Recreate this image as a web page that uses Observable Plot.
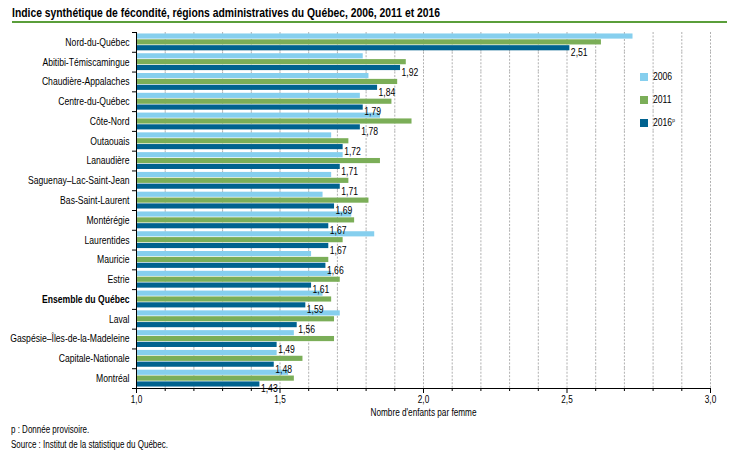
<!DOCTYPE html>
<html><head><meta charset="utf-8">
<script src="https://cdn.jsdelivr.net/npm/d3@7"></script>
<script src="https://cdn.jsdelivr.net/npm/@observablehq/plot@0.6"></script>
<style>
body{margin:0;background:#fff;font-family:'Liberation Sans',Arial,sans-serif;}
#wrap{position:relative;width:730px;height:457px;overflow:hidden;}
#title{position:absolute;left:12px;top:6px;font-weight:bold;font-size:12.5px;color:#000;white-space:nowrap;transform-origin:0 50%;}
#rule{position:absolute;left:12px;top:21px;width:715px;height:2px;background:#5A9E3A;}
#chart{position:absolute;left:0;top:24px;}
#legend{position:absolute;left:640px;top:72px;font-size:10.5px;}
.li{position:relative;height:23px;}
.sw{position:absolute;left:0;top:1px;width:8px;height:8px;}
.lt{position:absolute;left:13px;top:-2px;white-space:nowrap;transform:scaleX(0.82);transform-origin:0 50%;}
.foot{position:absolute;left:11px;font-size:10px;color:#000;white-space:nowrap;transform:scaleX(0.8);transform-origin:0 50%;}
</style></head>
<body><div id="wrap">
<div id="title">Indice synthétique de fécondité, régions administratives du Québec, 2006, 2011 et 2016</div>
<div id="rule"></div>
<div id="chart"></div>
<div id="legend"></div>
<div class="foot" style="top:424px">p : Donnée provisoire.</div>
<div class="foot" style="top:439px">Source : Institut de la statistique du Québec.</div>
</div>
<script>
const regions = ["Nord-du-Québec","Abitibi-Témiscamingue","Chaudière-Appalaches","Centre-du-Québec","Côte-Nord","Outaouais","Lanaudière","Saguenay–Lac-Saint-Jean","Bas-Saint-Laurent","Montérégie","Laurentides","Mauricie","Estrie","Ensemble du Québec","Laval","Gaspésie–Îles-de-la-Madeleine","Capitale-Nationale","Montréal"];
const v2006 = [2.73,1.79,1.81,1.78,1.85,1.68,1.72,1.68,1.65,1.75,1.83,1.61,1.68,1.65,1.71,1.55,1.49,1.53];
const v2011 = [2.62,1.94,1.91,1.89,1.96,1.74,1.85,1.74,1.81,1.76,1.72,1.67,1.71,1.68,1.69,1.69,1.58,1.55];
const v2016 = [2.51,1.92,1.84,1.79,1.78,1.72,1.71,1.71,1.69,1.67,1.67,1.66,1.61,1.59,1.56,1.49,1.48,1.43];
const years = ["2006","2011","2016"];
const yearLabels = ["2006","2011","2016<sup style='font-size:6px'>p</sup>"];
const colors = ["#86CFEE","#7BAE58","#00628F"];
const majorTicks = [1.0,1.5,2.0,2.5,3.0];
const gridTicks = [1.1,1.2,1.3,1.4,1.5,1.6,1.7,1.8,1.9,2.0,2.1,2.2,2.3,2.4,2.5,2.6,2.7,2.8,2.9,3.0];
const minorTicks = [1.1,1.2,1.3,1.4,1.6,1.7,1.8,1.9,2.1,2.2,2.3,2.4,2.6,2.7,2.8,2.9];

const series = [v2006, v2011, v2016];
const data = regions.flatMap((r, i) => years.map((y, j) => ({region: r, year: y, value: series[j][i]})));
const fmt2 = d => d3.format(".2f")(d).replace(".", ",");
const fmt1 = d => d3.format(".1f")(d).replace(".", ",");

const W = 730, H = 396, mT = 8, mB = 32, mL = 136, mR = 20;
const step = (H - mT - mB) / regions.length;
const FONT = "'Liberation Sans',Arial,sans-serif";

const chart = Plot.plot({
  width: W, height: H,
  marginLeft: mL, marginRight: mR, marginTop: mT, marginBottom: mB,
  style: {fontFamily: FONT, fontSize: "10px", color: "#000", background: "transparent"},
  x: {domain: [1, 3]},
  fy: {domain: regions, padding: 0, round: false, label: null, axis: null},
  y: {domain: years, paddingInner: 0.12, paddingOuter: 0.25, round: false, axis: null},
  color: {domain: years, range: colors},
  marks: [
    Plot.ruleX(gridTicks, {stroke: "#b0b0b0", strokeDasharray: "2,1.5", strokeWidth: 1}),
    Plot.barX(data, {fy: "region", y: "year", x1: 1, x2: "value", fill: "year"}),
    Plot.text(data.filter(d => d.year === "2016"), {fy: "region", y: "year", x: "value", text: d => fmt2(d.value), textAnchor: "start", dx: 1, dy: 4.5, fontSize: 10.5, fill: "#000"}),
    Plot.axisFy({anchor: "left", tickSize: 0, tickPadding: 7, label: null, fontSize: 10.5}),
    Plot.axisFy({anchor: "left", tickSize: 4, text: null, label: null, dy: -step / 2, stroke: "#000"}),
    Plot.frame({anchor: "left", facet: "super", stroke: "#000"}),
    Plot.frame({anchor: "bottom", facet: "super", stroke: "#000", insetLeft: -4}),
    Plot.axisX({ticks: majorTicks, tickFormat: fmt1, tickSize: 5, tickPadding: 2, fontSize: 10, label: "Nombre d'enfants par femme", labelAnchor: "center", labelArrow: "none", labelOffset: 27}),
    Plot.axisX({ticks: minorTicks, tickSize: 3, text: null, label: null})
  ]
});
document.getElementById("chart").appendChild(chart);
const svg = d3.select(chart.tagName.toLowerCase() === "svg" ? chart : chart.querySelector("svg"));
svg.selectAll("text").filter(function(){ return this.textContent === "Ensemble du Québec"; }).attr("font-weight", "bold");
// narrow the lettering (Arial Narrow look)
svg.selectAll("text").each(function(){
  if (this.querySelector("tspan")) {
    d3.select(this).selectAll("tspan").each(function(){
      const L = this.getComputedTextLength();
      if (L > 0) { this.setAttribute("textLength", L * 0.82); this.setAttribute("lengthAdjust", "spacingAndGlyphs"); }
    });
  } else {
    const L = this.getComputedTextLength();
    if (L > 0) { this.setAttribute("textLength", L * 0.82); this.setAttribute("lengthAdjust", "spacingAndGlyphs"); }
  }
});

const title = document.getElementById("title");
title.style.transform = `scaleX(${428 / title.getBoundingClientRect().width})`;

const lg = document.getElementById("legend");
years.forEach((y, i) => {
  const d = document.createElement("div"); d.className = "li";
  d.innerHTML = `<div class="sw" style="background:${colors[i]}"></div><div class="lt">${yearLabels[i]}</div>`;
  lg.appendChild(d);
});
</script>
</body></html>
